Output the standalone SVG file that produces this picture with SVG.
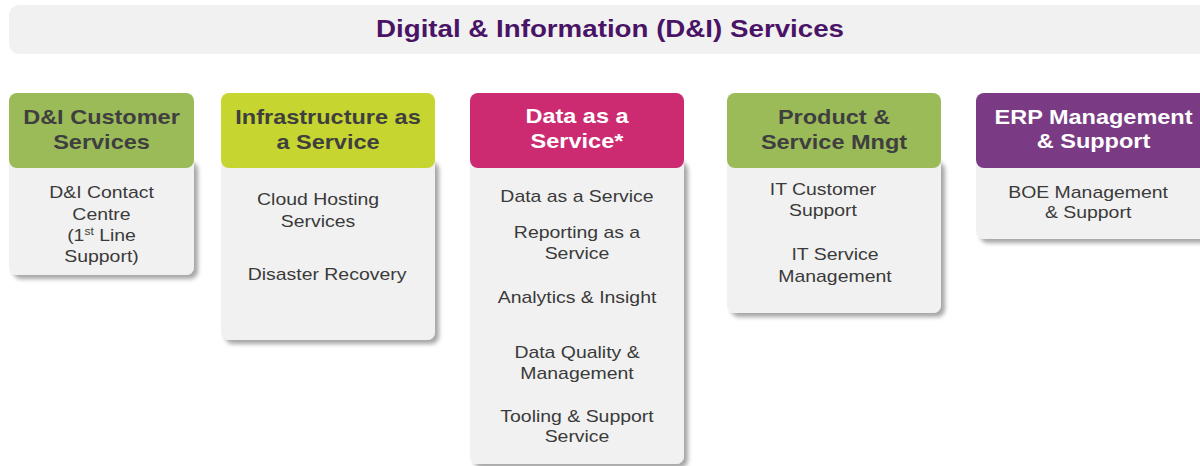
<svg xmlns="http://www.w3.org/2000/svg" width="1200" height="466" viewBox="0 0 1200 466">
<defs>
<filter id="sh" x="-10%" y="-10%" width="130%" height="130%">
<feDropShadow dx="4" dy="4" stdDeviation="2" flood-color="#000" flood-opacity="0.35"/>
</filter>
</defs>
<style>
.bar{fill:#f1f1f1}
.title{font-family:"Liberation Sans",Arial,sans-serif;font-weight:bold;font-size:23.5px;fill:#4a1466}
.body{fill:#f1f1f1;filter:url(#sh)}
.hd{font-family:"Liberation Sans",Arial,sans-serif;font-weight:bold;font-size:19.6px;text-anchor:middle}
.dark{fill:#3f3f3f}
.light{fill:#ffffff}
.bt{font-family:"Liberation Sans",Arial,sans-serif;font-size:16.2px;text-anchor:middle;fill:#3a3a3a}
</style>
<rect id="title-bar" class="bar" x="9" y="5" width="1205" height="49" rx="10"/>
<text class="title" x="376" y="37" textLength="468" lengthAdjust="spacingAndGlyphs">Digital &amp; Information (D&amp;I) Services</text>
<g id="connectors"/>
<g id="n1">
<rect class="body" x="9" y="158" width="185" height="117" rx="8"/>
<rect x="9" y="93" width="185" height="75" rx="8" fill="#9bbb59"/>
<g transform="translate(101.5 0) scale(1.2 1)">
<text class="hd dark" x="0" y="124">D&amp;I Customer</text>
<text class="hd dark" x="0" y="149">Services</text>
<text class="bt" x="0" y="198">D&amp;I Contact</text>
<text class="bt" x="0" y="220">Centre</text>
<text class="bt" x="0" y="241">(1<tspan font-size="10" dy="-6">st</tspan><tspan dy="6"> Line</tspan></text>
<text class="bt" x="0" y="262">Support)</text>
</g>
</g>
<g id="n2">
<rect class="body" x="221" y="158" width="214" height="182" rx="8"/>
<rect x="221" y="93" width="214" height="75" rx="8" fill="#c6d530"/>
<g transform="translate(328 0) scale(1.2 1)">
<text class="hd dark" x="0" y="124">Infrastructure as</text>
<text class="hd dark" x="0" y="149">a Service</text>
<text class="bt" x="-8.3" y="205">Cloud Hosting</text>
<text class="bt" x="-8.3" y="227">Services</text>
<text class="bt" x="-0.8" y="280">Disaster Recovery</text>
</g>
</g>
<g id="n3">
<rect class="body" x="470" y="158" width="214" height="306" rx="8"/>
<rect x="470" y="93" width="214" height="75" rx="8" fill="#cc2b72"/>
<g transform="translate(577 0) scale(1.2 1)">
<text class="hd light" x="0" y="123">Data as a</text>
<text class="hd light" x="0" y="148">Service*</text>
<text class="bt" x="0" y="202">Data as a Service</text>
<text class="bt" x="0" y="238">Reporting as a</text>
<text class="bt" x="0" y="259">Service</text>
<text class="bt" x="0" y="303">Analytics &amp; Insight</text>
<text class="bt" x="0" y="358">Data Quality &amp;</text>
<text class="bt" x="0" y="379">Management</text>
<text class="bt" x="0" y="422">Tooling &amp; Support</text>
<text class="bt" x="0" y="442">Service</text>
</g>
</g>
<g id="n4">
<rect class="body" x="727" y="158" width="214" height="155" rx="8"/>
<rect x="727" y="93" width="214" height="75" rx="8" fill="#9bbb59"/>
<g transform="translate(834 0) scale(1.2 1)">
<text class="hd dark" x="0" y="124">Product &amp;</text>
<text class="hd dark" x="0" y="149">Service Mngt</text>
<text class="bt" x="-9.2" y="195">IT Customer</text>
<text class="bt" x="-9.2" y="216">Support</text>
<text class="bt" x="0.8" y="260">IT Service</text>
<text class="bt" x="0.8" y="282">Management</text>
</g>
</g>
<g id="n5">
<rect class="body" x="976" y="158" width="232" height="81" rx="8"/>
<rect x="976" y="93" width="232" height="75" rx="8" fill="#7a3b84"/>
<g transform="translate(1093.5 0) scale(1.2 1)">
<text class="hd light" x="0" y="124">ERP Management</text>
<text class="hd light" x="0" y="148">&amp; Support</text>
<text class="bt" x="-4.5" y="198">BOE Management</text>
<text class="bt" x="-4.5" y="218">&amp; Support</text>
</g>
</g>
</svg>
